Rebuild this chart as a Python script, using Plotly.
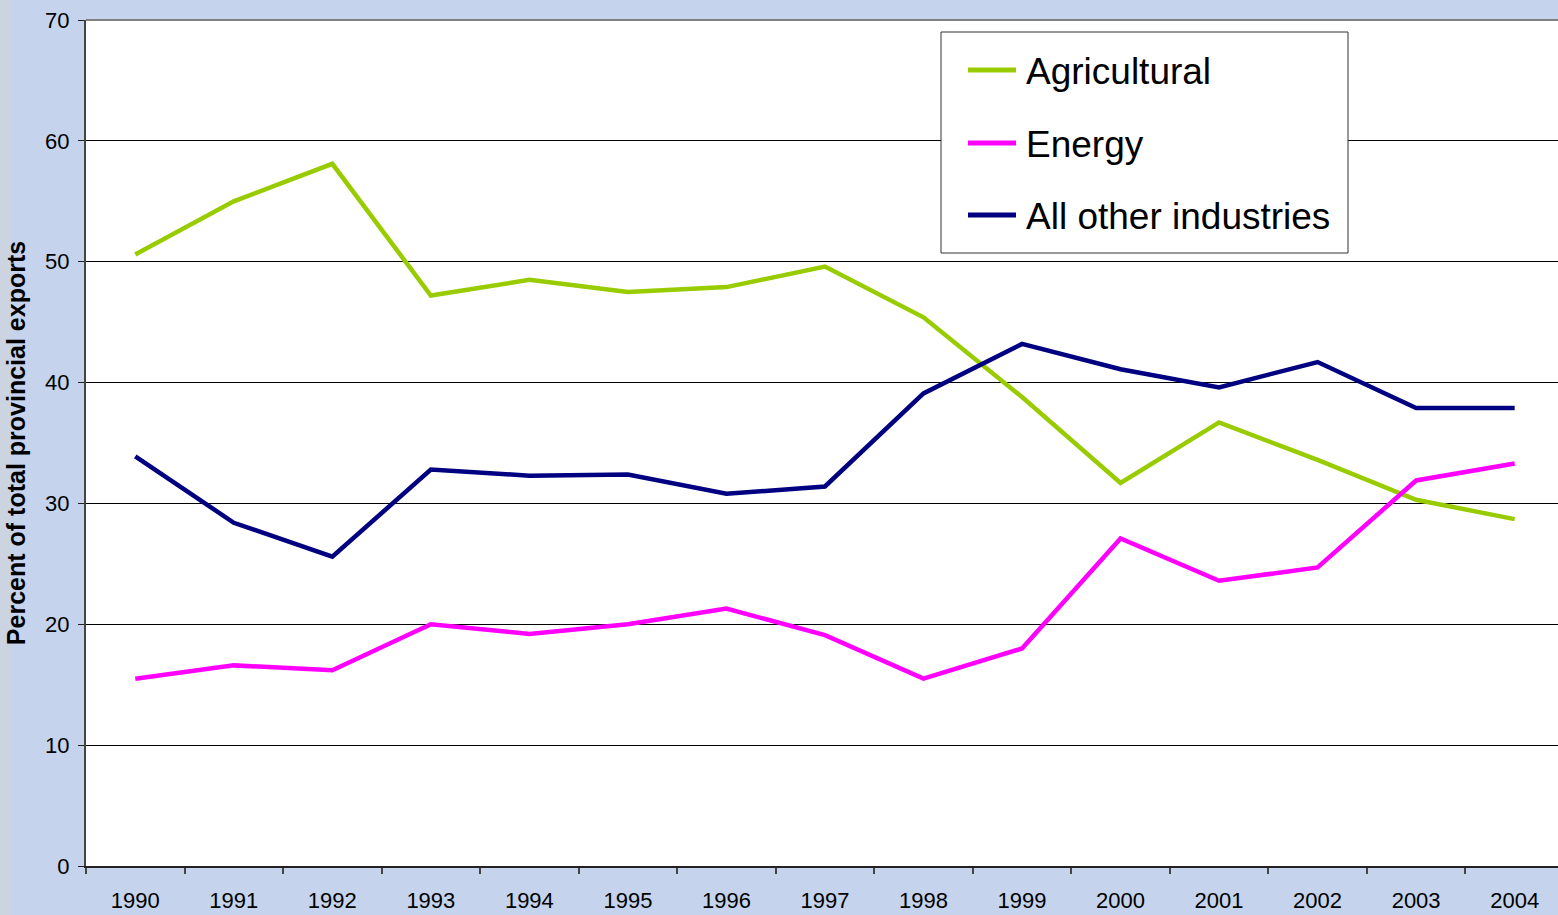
import plotly.graph_objects as go

years = ["1990", "1991", "1992", "1993", "1994", "1995", "1996", "1997",
         "1998", "1999", "2000", "2001", "2002", "2003", "2004"]
agricultural = [50.6, 55.0, 58.1, 47.2, 48.5, 47.5, 47.9, 49.6, 45.4, 38.8, 31.7, 36.7, 33.6, 30.3, 28.7]
energy = [15.5, 16.6, 16.2, 20.0, 19.2, 20.0, 21.3, 19.1, 15.5, 18.0, 27.1, 23.6, 24.7, 31.9, 33.3]
other = [33.9, 28.4, 25.6, 32.8, 32.3, 32.4, 30.8, 31.4, 39.1, 43.2, 41.1, 39.6, 41.7, 37.9, 37.9]
series_names = ["Agricultural", "Energy", "All other industries"]
series_colors = ["#99CC00", "#FF00FF", "#000080"]
series_values = [agricultural, energy, other]
y_ticks = [0, 10, 20, 30, 40, 50, 60, 70]

FONT = "Liberation Sans, Arial, sans-serif"

fig = go.Figure()
for name, color, vals in zip(series_names, series_colors, series_values):
    fig.add_trace(go.Scatter(x=years, y=vals, mode="lines", name=name,
                             line=dict(color=color, width=4.5), showlegend=False))

W, H = 1558, 915
L, R, T, B = 86, 0, 20, 49
pw, ph = W - L - R, H - T - B

def px(x):
    return (x - L) / pw

def py(y):
    return (H - B - y) / ph

shapes = [
    # left gray strip
    dict(type="rect", xref="paper", yref="paper", x0=px(0), x1=px(12), y0=py(H), y1=py(0),
         fillcolor="#CCD4E2", line=dict(width=0), layer="below"),
    # top border
    dict(type="line", xref="paper", yref="paper", x0=0, x1=1, y0=1, y1=1,
         line=dict(color="#808080", width=2)),
    # legend box
    dict(type="rect", xref="paper", yref="paper", x0=px(941), x1=px(1348), y0=py(253), y1=py(32),
         fillcolor="white", line=dict(color="#333333", width=1)),
]
annotations = []
legend_y = [70, 143, 215]
for name, color, ly in zip(series_names, series_colors, legend_y):
    shapes.append(dict(type="line", xref="paper", yref="paper", x0=px(968), x1=px(1016),
                       y0=py(ly), y1=py(ly), line=dict(color=color, width=5)))
    annotations.append(dict(xref="paper", yref="paper", x=px(1024), y=py(ly + 1), text=name,
                            showarrow=False, xanchor="left", yanchor="middle",
                            font=dict(family=FONT, size=37, color="black")))

fig.update_layout(
    width=W, height=H,
    margin=dict(l=L, r=R, t=T, b=B, autoexpand=False),
    paper_bgcolor="#C5D4EC",
    plot_bgcolor="white",
    font=dict(family=FONT, color="black"),
    shapes=shapes,
    annotations=annotations,
    showlegend=False,
    xaxis=dict(
        type="category", range=[-0.5, 14.44],
        tickson="boundaries", ticks="outside", ticklen=6, tickcolor="#444444", tickwidth=1.5,
        showgrid=False, showline=True, linecolor="#222222", linewidth=2,
        tickfont=dict(family=FONT, size=22, color="black"),
        ticklabelstandoff=14, zeroline=False,
    ),
    yaxis=dict(
        range=[0, 70], tickvals=y_ticks, ticks="outside", ticklen=6, tickcolor="#222222",
        showgrid=True, gridcolor="black", gridwidth=1,
        showline=True, linecolor="#444444", linewidth=2, zeroline=False,
        tickfont=dict(family=FONT, size=22, color="black"),
        ticklabelstandoff=4,
        title=dict(text="<b>Percent of total provincial exports</b>",
                   font=dict(family=FONT, size=25, color="black"), standoff=12),
    ),
)

fig.write_html("out.html", config={"displayModeBar": False},
               post_script="document.body.style.margin='0px';document.body.style.overflow='hidden';")
